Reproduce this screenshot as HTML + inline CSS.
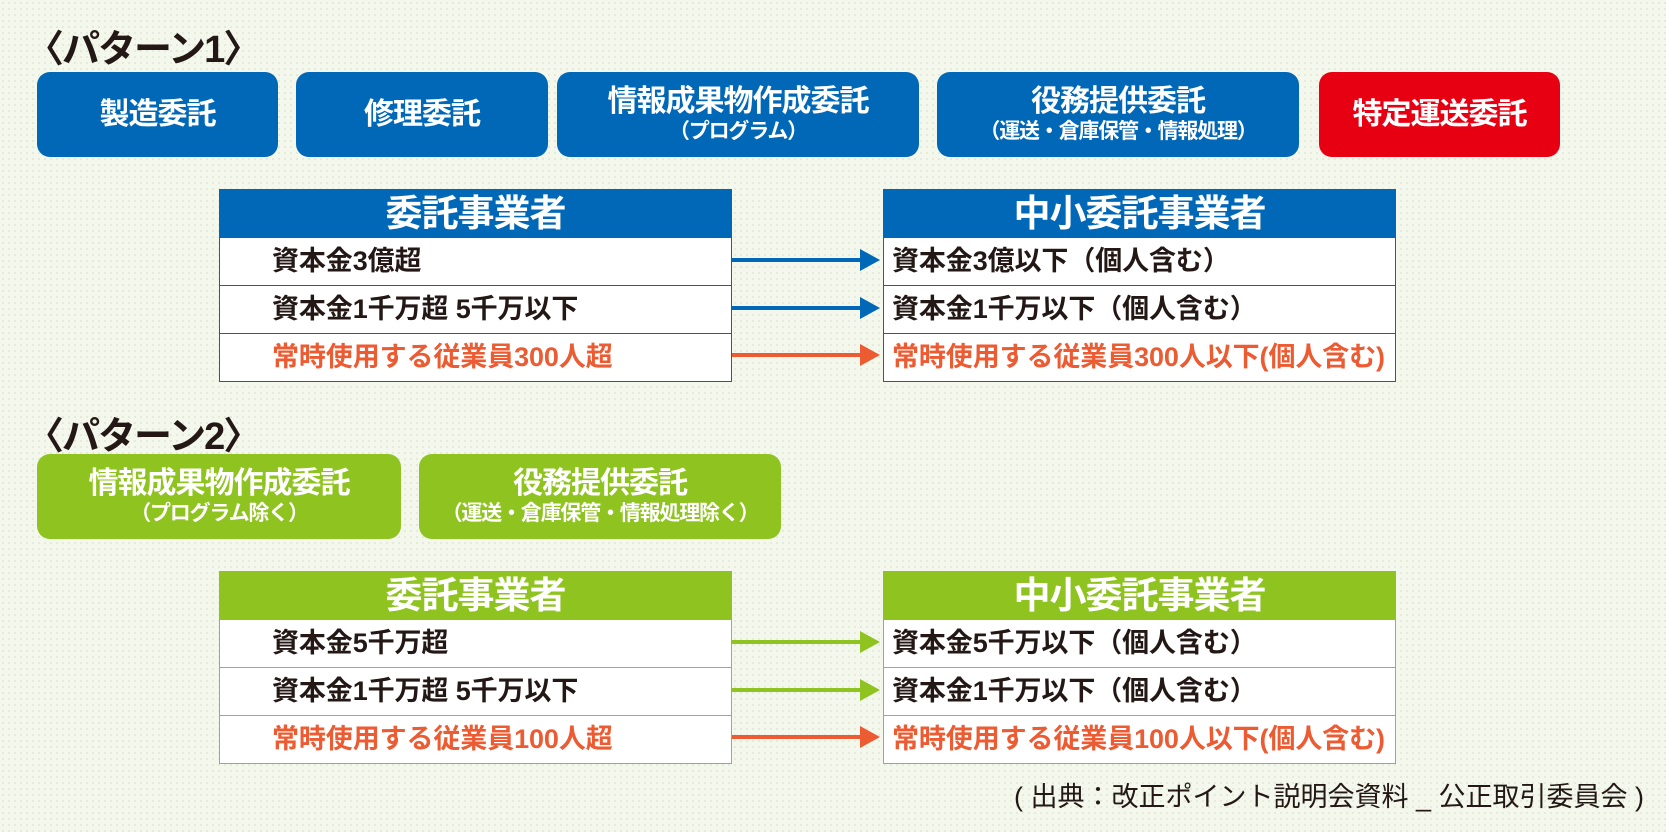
<!DOCTYPE html>
<html><head><meta charset="utf-8">
<style>
*{margin:0;padding:0;box-sizing:border-box}
body{width:1666px;height:832px;overflow:hidden;background:#f3f7ec;background-image:radial-gradient(#e4ead9 1px,transparent 1.2px);background-size:6px 6px;font-family:"Liberation Sans","Noto Sans CJK JP",sans-serif;font-weight:bold;color:#231815;position:relative}
.a{position:absolute}
.t{font-size:38px;font-weight:bold;letter-spacing:-2px;left:26px}
.btn{position:absolute;border-radius:13px;color:#fff;display:flex;flex-direction:column;align-items:center;justify-content:center;text-align:center;letter-spacing:-1px}
.btn .m{font-size:30px;line-height:35px}
.btn .s{font-size:21px;line-height:26px;letter-spacing:-1.2px}
.b{background:#0068b7}.g{background:#8fc31f}.r{background:#e60012}
.tb{position:absolute;width:513px;background:#fff}
.tb .h{height:47px;color:#fff;font-size:37px;text-align:center;line-height:47px;letter-spacing:-1px}
.tb .row{height:48px;line-height:46px;font-size:27px;letter-spacing:-0.1px;border-top:1.5px solid;white-space:nowrap}
.tbB{border:1.5px solid #0068b7}.tbB .h{background:#0068b7}.tbB .row{border-color:#0068b7}
.tbG{border:1.5px solid #8fc31f}.tbG .h{background:#8fc31f}.tbG .row{border-color:#8fc31f}
.L .row{padding-left:52px}.R .row{padding-left:8px}
.o{color:#ec5b32}
.ar{position:absolute;height:4px;width:130px;left:732px}
.ar::after{content:"";position:absolute;right:-18px;top:-9px;border-left:20px solid;border-left-color:inherit;border-top:11px solid transparent;border-bottom:11px solid transparent}
</style></head><body>
<div class="a t" style="top:18px">〈パターン1〉</div>
<div class="btn b" style="left:37px;top:72px;width:241px;height:85px"><div class="m">製造委託</div></div>
<div class="btn b" style="left:296px;top:72px;width:252px;height:85px"><div class="m">修理委託</div></div>
<div class="btn b" style="left:557px;top:72px;width:362px;height:85px"><div class="m">情報成果物作成委託</div><div class="s">（プログラム）</div></div>
<div class="btn b" style="left:937px;top:72px;width:362px;height:85px"><div class="m">役務提供委託</div><div class="s">（運送・倉庫保管・情報処理）</div></div>
<div class="btn r" style="left:1319px;top:72px;width:241px;height:85px"><div class="m">特定運送委託</div></div>

<div class="tb tbB L" style="left:219px;top:189px"><div class="h">委託事業者</div><div class="row">資本金3億超</div><div class="row">資本金1千万超 5千万以下</div><div class="row o">常時使用する従業員300人超</div></div>
<div class="tb tbB R" style="left:883px;top:189px"><div class="h">中小委託事業者</div><div class="row">資本金3億以下（個人含む）</div><div class="row">資本金1千万以下（個人含む）</div><div class="row o">常時使用する従業員300人以下(個人含む)</div></div>
<div class="ar" style="top:258px;background:#0068b7;border-color:#0068b7"></div>
<div class="ar" style="top:306px;background:#0068b7;border-color:#0068b7"></div>
<div class="ar" style="top:353px;background:#ec5b32;border-color:#ec5b32"></div>

<div class="a t" style="top:405px">〈パターン2〉</div>
<div class="btn g" style="left:37px;top:454px;width:364px;height:85px"><div class="m">情報成果物作成委託</div><div class="s">（プログラム除く）</div></div>
<div class="btn g" style="left:419px;top:454px;width:362px;height:85px"><div class="m">役務提供委託</div><div class="s">（運送・倉庫保管・情報処理除く）</div></div>

<div class="tb tbG L" style="left:219px;top:571px"><div class="h">委託事業者</div><div class="row">資本金5千万超</div><div class="row">資本金1千万超 5千万以下</div><div class="row o">常時使用する従業員100人超</div></div>
<div class="tb tbG R" style="left:883px;top:571px"><div class="h">中小委託事業者</div><div class="row">資本金5千万以下（個人含む）</div><div class="row">資本金1千万以下（個人含む）</div><div class="row o">常時使用する従業員100人以下(個人含む)</div></div>
<div class="ar" style="top:640px;background:#8fc31f;border-color:#8fc31f"></div>
<div class="ar" style="top:688px;background:#8fc31f;border-color:#8fc31f"></div>
<div class="ar" style="top:735px;background:#ec5b32;border-color:#ec5b32"></div>

<div class="a" style="right:22px;top:775px;font-size:27px;font-weight:normal;letter-spacing:0px">( 出典：改正ポイント説明会資料 _ 公正取引委員会 )</div>
</body></html>
